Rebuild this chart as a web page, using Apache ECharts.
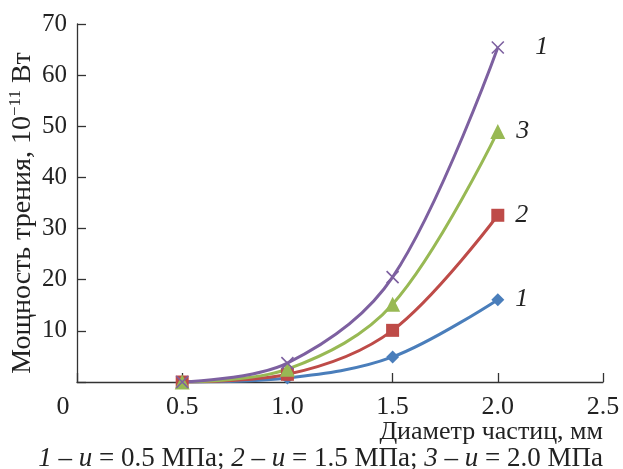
<!DOCTYPE html>
<html><head><meta charset="utf-8">
<script src="https://cdn.jsdelivr.net/npm/echarts@6/dist/echarts.min.js"></script>
<style>html,body{margin:0;padding:0;background:#fff}#c{width:623px;height:469px}</style>
</head><body><div id="c"></div>
<script>
var diameters = [0.5, 1.0, 1.5, 2.0];
var s1 = [0, 0.8, 4.9, 16.1];
var s2 = [0, 1.5, 10.1, 32.6];
var s3 = [0, 2.5, 15.2, 49.0];
var s4 = [0, 3.7, 20.5, 65.4];
var endLabels = ['1', '2', '3', '1'];
var xTicks = [0, 0.5, 1.0, 1.5, 2.0, 2.5];
var yTicks = [0, 10, 20, 30, 40, 50, 60, 70];

var F = 'Liberation Serif';
var ax = '#333';
var TC = '#222';
function pts(v){ return diameters.map(function(d,i){return [d, v[i]];}); }
function mk(v, color, symbol, size, lbl, lblOffset, extraItem){
  var data = pts(v).map(function(p){ return {value: p}; });
  data[data.length-1].label = {show:true, formatter: lbl, position:'right', distance: lblOffset,
    fontFamily: F, fontStyle:'italic', fontSize: 26, color:TC};
  return {
    type:'line', smooth:0.35, data:data, symbol:symbol, symbolSize:size,
    lineStyle:{color:color, width:3}, itemStyle: extraItem || {color:color},
    color: color, z: 3
  };
}
var chart = echarts.init(document.getElementById('c'));
chart.setOption({
  animation:false,
  grid:{left:77, right:20, top:24, bottom:87, containLabel:false, outerBoundsMode:'none'},
  xAxis:{type:'value', min:0, max:2.5, interval:0.5,
    axisLine:{lineStyle:{color:ax, width:1.3}},
    axisTick:{inside:true, length:9, lineStyle:{color:ax, width:1.3}},
    splitLine:{show:false},
    axisLabel:{margin:12, fontFamily:F, fontSize:26, color:TC,
      formatter:function(v){ return v === 0 ? '{z|0}' : v.toFixed(1); },
      rich:{z:{fontFamily:F, fontSize:26, color:TC, padding:[0,28,0,0]}}},
    name:'Диаметр частиц, мм', nameLocation:'end', nameGap:0, nameMoveOverlap:false,
    nameTextStyle:{fontFamily:F, fontSize:26, color:TC, align:'right', verticalAlign:'top', padding:[37,0,0,0]}
  },
  yAxis:{type:'value', min:0, max:70, interval:10,
    axisLine:{show:true, lineStyle:{color:ax, width:1.3}},
    axisTick:{show:true, inside:true, length:9, lineStyle:{color:ax, width:1.3}},
    splitLine:{show:false},
    axisLabel:{margin:10, fontFamily:F, fontSize:25, color:TC,
      formatter:function(v){ return v === 0 ? '' : String(v); }},
    name:'{a|Мощность трения, 10}{s|−11}{a| Вт}', nameLocation:'middle', nameGap:39, nameMoveOverlap:false,
    nameTextStyle:{padding:[0,20,0,0], rich:{a:{fontFamily:F, fontSize:28, color:TC}, s:{fontFamily:F, fontSize:17, color:TC, verticalAlign:'top', padding:[0,0,14,0]}}}
  },
  graphic:[{type:'text', right:20, top:445, style:{
    text:'{i|1} – {i|u} = 0.5 МПа; {i|2} – {i|u} = 1.5 МПа; {i|3} – {i|u} = 2.0 МПа',
    fontFamily:F, fontSize:27, fill:TC,
    rich:{i:{fontFamily:F, fontStyle:'italic', fontSize:27, fill:TC}}
  }}],
  series:[
    mk(s1, '#4A7EBB', 'diamond', 13, endLabels[0], 11),
    mk(s2, '#BE4B48', 'rect', 13, endLabels[1], 11),
    mk(s3, '#98B954', 'triangle', 15, endLabels[2], 11),
    mk(s4, '#7D60A0', 'path://M0,0L10,10M10,0L0,10', 12, endLabels[3], 29,
      {color:'none', borderColor:'#7D60A0', borderWidth:1.6})
  ]
});
</script></body></html>
